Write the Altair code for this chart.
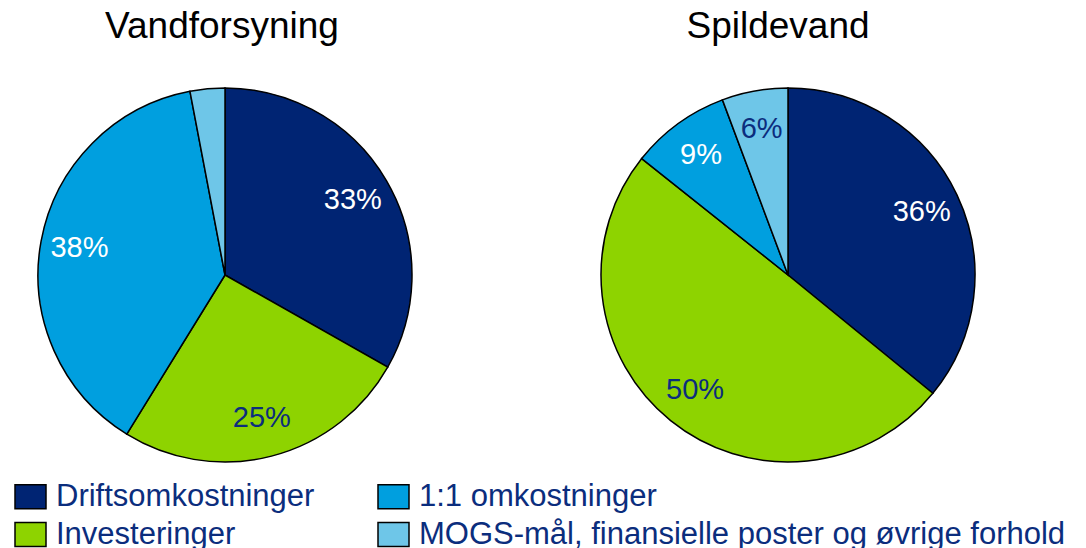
import altair as alt
import pandas as pd

# ---- data ----
categories = [
    "Driftsomkostninger",
    "Investeringer",
    "1:1 omkostninger",
    "MOGS-mål, finansielle poster og øvrige forhold",
]
category_colors = ["#002473", "#8ED300", "#009FDF", "#6EC6E8"]

vand_values = [33.2, 25.6, 38.2, 3.0]
vand_labels = ["33%", "25%", "38%", ""]
spilde_values = [35.9, 49.8, 8.6, 5.7]
spilde_labels = ["36%", "50%", "9%", "6%"]

NAVY = "#0B2D7D"
label_colors = ["white", NAVY, "white", NAVY]
FONT = "Liberation Sans"


def frame(values, labels):
    return pd.DataFrame({
        "kategori": categories,
        "andel": values,
        "tekst": labels,
        "tekstfarve": label_colors,
        "rk": list(range(len(categories))),
    })


def pie(df, title, title_dx):
    legend = alt.Legend(
        orient="none", legendX=6, legendY=405, columns=2, title=None,
        symbolType="M-1,-0.77H1V0.77H-1Z", symbolSize=961,
        symbolStrokeColor="black", symbolStrokeWidth=1.5, symbolOpacity=1,
        labelFont=FONT, labelFontSize=31, labelColor=NAVY, labelLimit=0,
        labelOffset=9, rowPadding=6, columnPadding=60, padding=0,
    )
    color = alt.Color(
        "kategori:N",
        scale=alt.Scale(domain=categories, range=category_colors),
        legend=legend,
    )
    base = alt.Chart(df).encode(
        theta=alt.Theta("andel:Q", stack=True),
        order=alt.Order("rk:Q"),
    )
    arcs = base.mark_arc(outerRadius=187, stroke="black", strokeWidth=1.5).encode(color=color)
    texts = base.mark_text(radius=148, fontSize=29, font=FONT).encode(
        text="tekst:N",
        color=alt.Color("tekstfarve:N", scale=None),
    )
    return alt.layer(arcs, texts).properties(
        width=434, height=400,
        title=alt.TitleParams(title, fontSize=37, font=FONT, fontWeight="normal",
                              color="black", anchor="middle", offset=29, dx=title_dx),
    )


chart = alt.hconcat(
    pie(frame(vand_values, vand_labels), "Vandforsyning", -3),
    pie(frame(spilde_values, spilde_labels), "Spildevand", -10),
    spacing=129,
).resolve_scale(color="shared").properties(
    padding={"left": 0, "top": 0, "right": 0, "bottom": 0}
).configure_view(stroke=None).configure(background="white")

chart.save("out.html", embed_options={"renderer": "svg", "actions": False})
